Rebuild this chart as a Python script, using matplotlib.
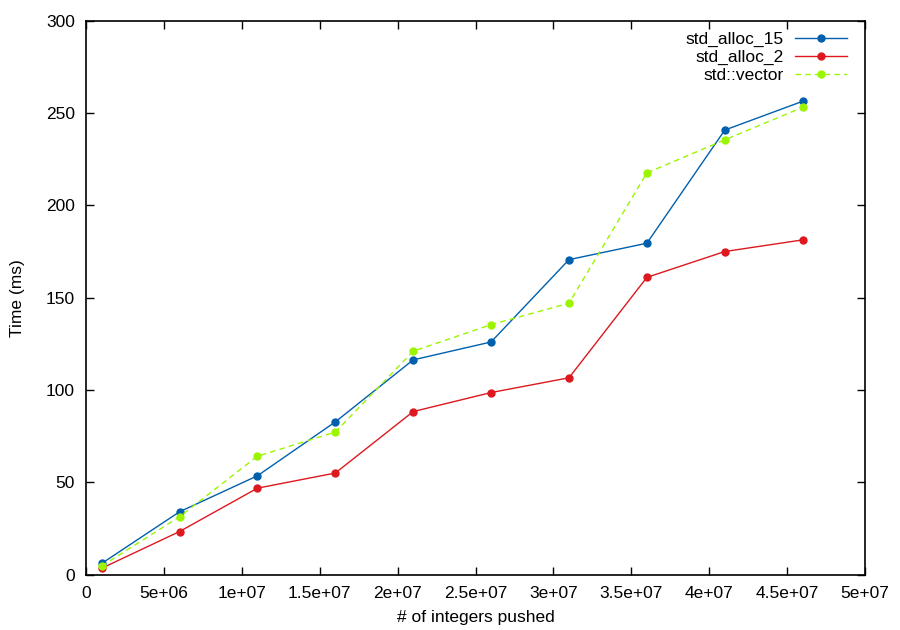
import numpy as np
import matplotlib.pyplot as plt

plt.rcParams['font.family'] = ['Liberation Sans', 'DejaVu Sans']

pushed = [1e6, 6e6, 11e6, 16e6, 21e6, 26e6, 31e6, 36e6, 41e6, 46e6]
alloc_15 = [6.0, 34.0, 53.5, 82.7, 116.3, 126.0, 170.6, 179.5, 240.8, 256.4]
alloc_2 = [3.4, 23.3, 46.8, 55.0, 88.3, 98.6, 106.6, 161.0, 175.0, 181.3]
vector = [4.6, 31.3, 64.1, 77.2, 121.0, 135.4, 147.0, 217.6, 235.5, 253.1]

xticks = [0, 5e6, 1e7, 1.5e7, 2e7, 2.5e7, 3e7, 3.5e7, 4e7, 4.5e7, 5e7]
xtick_labels = ['0', '5e+06', '1e+07', '1.5e+07', '2e+07', '2.5e+07',
                '3e+07', '3.5e+07', '4e+07', '4.5e+07', '5e+07']
yticks = [0, 50, 100, 150, 200, 250, 300]

fs = 12.5

fig = plt.figure(figsize=(9, 6.3), dpi=100)
ax = fig.add_axes([0.0956, 0.088, 0.8655, 0.879])

ax.plot(pushed, alloc_15, color='#0060ad', lw=1.0, marker='o', ms=5, label='std_alloc_15')
ax.plot(pushed, alloc_2, color='#dd181f', lw=1.0, marker='o', ms=5, label='std_alloc_2')
ax.plot(pushed, vector, color='#9cf500', lw=1.0, marker='o', ms=5,
        dashes=(4, 3), label='std::vector')

ax.set_xlim(0, 5e7)
ax.set_ylim(0, 300)
ax.set_xticks(xticks)
ax.set_xticklabels(xtick_labels)
ax.set_yticks(yticks)
ax.tick_params(direction='in', top=True, right=True, length=6, width=1,
               labelsize=fs, pad=8, colors='black')
for s in ax.spines.values():
    s.set_linewidth(1.2)

ax.set_xlabel('# of integers pushed', fontsize=fs, labelpad=7)
ax.set_ylabel('Time (ms)', fontsize=fs, labelpad=15)

ax.legend(loc='upper right', bbox_to_anchor=(0.992, 1.0), frameon=False,
          markerfirst=False, fontsize=fs, handlelength=3.0, labelspacing=0.15,
          borderaxespad=0.25, handletextpad=0.7)

fig.savefig('out.png', dpi=100)
